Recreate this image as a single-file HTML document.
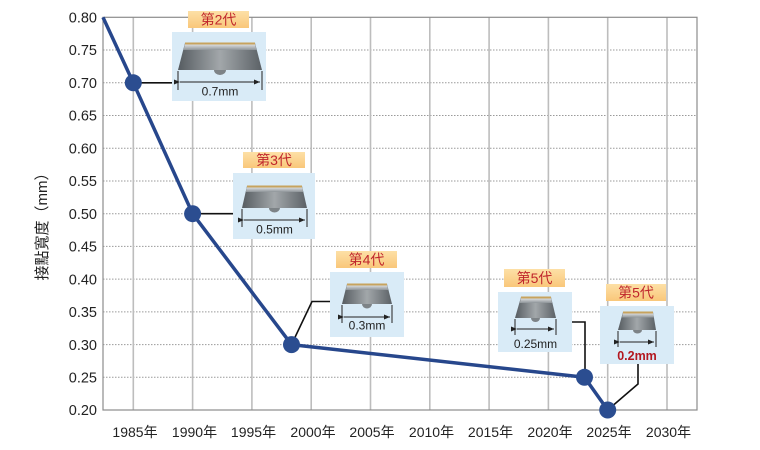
<!DOCTYPE html>
<html><head><meta charset="utf-8"><style>
html,body{margin:0;padding:0;background:#fff;}
svg{display:block;}
text{font-family:"Liberation Sans","Noto Sans CJK TC",sans-serif;}
</style></head><body>
<svg width="760" height="450" viewBox="0 0 760 450" xmlns="http://www.w3.org/2000/svg">
<defs>
<linearGradient id="body" x1="0" y1="0" x2="1" y2="0">
<stop offset="0" stop-color="#565c61"/><stop offset="0.5" stop-color="#a2a7aa"/><stop offset="1" stop-color="#5b6166"/>
</linearGradient>
<linearGradient id="band" x1="0" y1="0" x2="0" y2="1">
<stop offset="0" stop-color="#e3e5e6"/><stop offset="1" stop-color="#8e9498"/>
</linearGradient>
<linearGradient id="tag" x1="0" y1="0" x2="0" y2="1">
<stop offset="0" stop-color="#fde0a6"/><stop offset="1" stop-color="#f9c77a"/>
</linearGradient>
<marker id="ar" markerWidth="6" markerHeight="6" refX="6" refY="3" orient="auto" markerUnits="userSpaceOnUse"><path d="M0,0.5 L6,3 L0,5.5 Z" fill="#222"/></marker>
</defs>

<!-- horizontal dotted gridlines -->
<g stroke="#9a9a9a" stroke-width="1" stroke-dasharray="1.5,1.5">
<line x1="103" y1="50" x2="697" y2="50"/>
<line x1="103" y1="82.8" x2="697" y2="82.8"/>
<line x1="103" y1="115.5" x2="697" y2="115.5"/>
<line x1="103" y1="148.2" x2="697" y2="148.2"/>
<line x1="103" y1="181" x2="697" y2="181"/>
<line x1="103" y1="213.7" x2="697" y2="213.7"/>
<line x1="103" y1="246.4" x2="697" y2="246.4"/>
<line x1="103" y1="279.1" x2="697" y2="279.1"/>
<line x1="103" y1="311.9" x2="697" y2="311.9"/>
<line x1="103" y1="344.6" x2="697" y2="344.6"/>
<line x1="103" y1="377.3" x2="697" y2="377.3"/>
</g>
<!-- vertical gridlines -->
<g stroke="#bdbdbd" stroke-width="1.6">
<line x1="133.3" y1="17.3" x2="133.3" y2="410"/>
<line x1="192.6" y1="17.3" x2="192.6" y2="410"/>
<line x1="251.9" y1="17.3" x2="251.9" y2="410"/>
<line x1="311.2" y1="17.3" x2="311.2" y2="410"/>
<line x1="370.5" y1="17.3" x2="370.5" y2="410"/>
<line x1="429.8" y1="17.3" x2="429.8" y2="410"/>
<line x1="489.1" y1="17.3" x2="489.1" y2="410"/>
<line x1="548.4" y1="17.3" x2="548.4" y2="410"/>
<line x1="607.7" y1="17.3" x2="607.7" y2="410"/>
<line x1="667" y1="17.3" x2="667" y2="410"/>
</g>
<rect x="103" y="17.3" width="594" height="392.7" fill="none" stroke="#8c8c8c" stroke-width="1.2"/>

<!-- y labels -->
<g font-size="14.5" fill="#222" text-anchor="end">
<text x="97" y="22.5">0.80</text>
<text x="97" y="55.2">0.75</text>
<text x="97" y="88">0.70</text>
<text x="97" y="120.7">0.65</text>
<text x="97" y="153.4">0.60</text>
<text x="97" y="186.2">0.55</text>
<text x="97" y="218.9">0.50</text>
<text x="97" y="251.6">0.45</text>
<text x="97" y="284.3">0.40</text>
<text x="97" y="317.1">0.35</text>
<text x="97" y="349.8">0.30</text>
<text x="97" y="382.5">0.25</text>
<text x="97" y="415.2">0.20</text>
</g>
<text transform="translate(47,223) rotate(-90)" font-size="15" fill="#222" text-anchor="middle">接點寬度（mm）</text>

<!-- x labels -->
<g font-size="14" fill="#222" text-anchor="middle">
<text x="135" y="437">1985年</text>
<text x="194.5" y="437">1990年</text>
<text x="253.5" y="437">1995年</text>
<text x="313" y="437">2000年</text>
<text x="372" y="437">2005年</text>
<text x="431.5" y="437">2010年</text>
<text x="490.5" y="437">2015年</text>
<text x="550" y="437">2020年</text>
<text x="609" y="437">2025年</text>
<text x="668.5" y="437">2030年</text>
</g>

<!-- connectors -->
<g stroke="#111" stroke-width="1.6" fill="none">
<line x1="133" y1="82.8" x2="172" y2="82.8"/>
<line x1="193" y1="213.7" x2="233" y2="213.7"/>
<polyline points="291.5,344.6 312,301.5 330,301.5"/>
<polyline points="572,322 585,322 585,377"/>
<polyline points="607.7,410 638,384 638,364"/>
</g>

<!-- main line -->
<polyline points="103,17.3 133.3,82.8 192.6,213.7 291.5,344.6 584.5,377.3 607.7,410" fill="none" stroke="#27478c" stroke-width="3.5" stroke-linejoin="round"/>
<g fill="#2b4d90">
<circle cx="133.3" cy="82.8" r="8.5"/>
<circle cx="192.6" cy="213.7" r="8.5"/>
<circle cx="291.5" cy="344.6" r="8.5"/>
<circle cx="584.5" cy="377.3" r="8.5"/>
<circle cx="607.7" cy="410" r="8.5"/>
</g>

<!-- Box 1 -->
<rect x="188" y="11" width="61" height="17" fill="url(#tag)"/>
<text x="218.5" y="24.5" font-size="14" fill="#c0262c" text-anchor="middle">第2代</text>
<rect x="172" y="32" width="94" height="69" fill="#d9ebf7"/>
<polygon points="185,43 255,43 262,70 178,70" fill="url(#body)"/>
<polygon points="185,44 255,44 256.5,50 183.5,50" fill="url(#band)"/>
<rect x="185" y="42.5" width="70" height="2" fill="#c7a35e"/>
<path d="M214,70 A6,5 0 0 0 226,70 Z" fill="#7d8387"/>
<g stroke="#222" stroke-width="1"><line x1="178" y1="71" x2="178" y2="90"/><line x1="262" y1="71" x2="262" y2="90"/>
<line x1="180" y1="82" x2="260" y2="82" marker-end="url(#ar)" marker-start="url(#ar)"/></g>
<text x="220" y="95.5" font-size="12" fill="#222" text-anchor="middle">0.7mm</text>

<!-- Box 2 -->
<rect x="243" y="152" width="62" height="16" fill="url(#tag)"/>
<text x="274" y="165" font-size="14" fill="#c0262c" text-anchor="middle">第3代</text>
<rect x="233" y="173" width="82" height="66" fill="#d9ebf7"/>
<polygon points="247,186 302,186 307,208 242,208" fill="url(#body)"/>
<polygon points="247,187 302,187 303.3,192 245.7,192" fill="url(#band)"/>
<rect x="247" y="185.5" width="55" height="2" fill="#c7a35e"/>
<path d="M269,208 A5.5,4.5 0 0 0 280,208 Z" fill="#7d8387"/>
<g stroke="#222" stroke-width="1"><line x1="242" y1="209" x2="242" y2="227"/><line x1="307" y1="209" x2="307" y2="227"/>
<line x1="244" y1="220" x2="305" y2="220" marker-end="url(#ar)" marker-start="url(#ar)"/></g>
<text x="274.5" y="233.5" font-size="12" fill="#222" text-anchor="middle">0.5mm</text>

<!-- Box 3 -->
<rect x="336" y="251" width="61" height="17" fill="url(#tag)"/>
<text x="366.5" y="264.5" font-size="14" fill="#c0262c" text-anchor="middle">第4代</text>
<rect x="330" y="272" width="74" height="65" fill="#d9ebf7"/>
<polygon points="347,284 387,284 392,304 342,304" fill="url(#body)"/>
<polygon points="347,285 387,285 388.2,290 345.8,290" fill="url(#band)"/>
<rect x="347" y="283.5" width="40" height="2" fill="#c7a35e"/>
<path d="M362,304 A5,4.5 0 0 0 372,304 Z" fill="#7d8387"/>
<g stroke="#222" stroke-width="1"><line x1="342" y1="305" x2="342" y2="323"/><line x1="392" y1="305" x2="392" y2="323"/>
<line x1="344" y1="317" x2="390" y2="317" marker-end="url(#ar)" marker-start="url(#ar)"/></g>
<text x="367" y="329.5" font-size="12" fill="#222" text-anchor="middle">0.3mm</text>

<!-- Box 4 -->
<rect x="504" y="269" width="61" height="18" fill="url(#tag)"/>
<text x="534.5" y="283" font-size="14" fill="#c0262c" text-anchor="middle">第5代</text>
<rect x="498" y="292" width="74" height="60" fill="#d9ebf7"/>
<polygon points="521,297 551,297 556,318 515,318" fill="url(#body)"/>
<polygon points="521,298 551,298 552.2,303 519.8,303" fill="url(#band)"/>
<rect x="521" y="296.5" width="30" height="2" fill="#c7a35e"/>
<path d="M531,318 A4.5,4 0 0 0 540,318 Z" fill="#7d8387"/>
<g stroke="#222" stroke-width="1"><line x1="515" y1="319" x2="515" y2="335"/><line x1="556" y1="319" x2="556" y2="335"/>
<line x1="517" y1="329" x2="554" y2="329" marker-end="url(#ar)" marker-start="url(#ar)"/></g>
<text x="535.5" y="348" font-size="12" fill="#222" text-anchor="middle">0.25mm</text>

<!-- Box 5 -->
<rect x="606" y="284" width="60" height="17" fill="url(#tag)"/>
<text x="636" y="297.5" font-size="14" fill="#c0262c" text-anchor="middle">第5代</text>
<rect x="600" y="306" width="74" height="58" fill="#d9ebf7"/>
<polygon points="623,312 653,312 656,330 618,330" fill="url(#body)"/>
<polygon points="623,313 653,313 654,317.5 622,317.5" fill="url(#band)"/>
<rect x="623" y="311.5" width="30" height="2" fill="#c7a35e"/>
<path d="M633,330 A4.5,3.5 0 0 0 642,330 Z" fill="#7d8387"/>
<g stroke="#222" stroke-width="1"><line x1="618" y1="331" x2="618" y2="347"/><line x1="656" y1="331" x2="656" y2="347"/>
<line x1="620" y1="342" x2="654" y2="342" marker-end="url(#ar)" marker-start="url(#ar)"/></g>
<text x="637" y="360" font-size="12.5" font-weight="bold" fill="#b3171f" text-anchor="middle">0.2mm</text>
</svg>
</body></html>
